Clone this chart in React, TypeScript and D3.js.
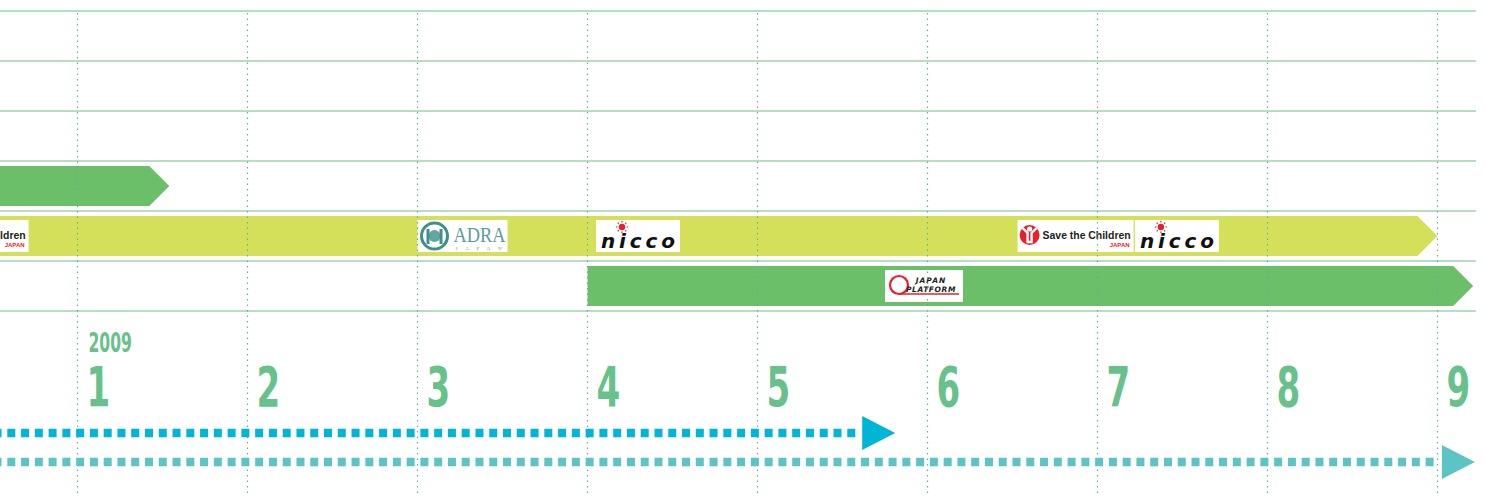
import * as d3 from 'd3';

// months shown on the timeline (2009)
const months = [1, 2, 3, 4, 5, 6, 7, 8, 9];
const yearLabel = '2009';
const gridRows = [0, 1, 2, 3, 4, 5, 6];

// project bars: row index, start / end month
const bars = [
  { row: 3, start: -0.6, end: 1.54, kind: 'green' },
  { row: 4, start: -0.6, end: 9.0, kind: 'yellow' },
  { row: 5, start: 4.0, end: 9.21, kind: 'green' },
];

// organisation logos placed on the bars (left edge in months)
const logos = [
  { row: 4, start: 0.03, org: 'stc' },
  { row: 4, start: 3.0, org: 'adra' },
  { row: 4, start: 4.05, org: 'nicco' },
  { row: 5, start: 5.75, org: 'jpf' },
  { row: 4, start: 6.53, org: 'stc' },
  { row: 4, start: 7.22, org: 'nicco' },
];

// dotted period arrows below the axis
const periods = [
  { lane: 0, end: 5.81, kind: 'blue' },
  { lane: 1, end: 9.22, kind: 'teal' },
];

const colors: Record<string, string> = {
  green: '#6bbf69',
  yellow: '#d5e05a',
  blue: '#00b5d6',
  teal: '#5cc4c4',
};
const logoWidth: Record<string, number> = { stc: 116, adra: 90, nicco: 84, jpf: 78 };

const W = 1485;
const H = 496;

function Logo({ org, x, y }: { org: string; x: number; y: number }) {
  const w = logoWidth[org];
  const h = 32;
  return (
    <g transform={`translate(${x},${y})`}>
      <rect width={w} height={h} fill="#fff" />
      {org === 'stc' && (
        <g>
          <circle cx={12} cy={15} r={10} fill="#e8202a" />
          <circle cx={12} cy={9} r={2.6} fill="#fff" />
          <path d="M5,8 L10,13 L10,22 L14,22 L14,13 L19,8" stroke="#fff" strokeWidth={2.4} fill="none" />
          <text x={25} y={19} fontFamily="Liberation Sans, Arial" fontWeight="bold" fontSize={10.2} fill="#222"
            textLength={88} lengthAdjust="spacingAndGlyphs">
            Save the Children
          </text>
          <text x={112} y={27} textAnchor="end" fontFamily="Liberation Sans, Arial" fontWeight="bold" fontSize={6} fill="#e8202a">
            JAPAN
          </text>
        </g>
      )}
      {org === 'adra' && (
        <g>
          <circle cx={17} cy={16} r={13} fill="none" stroke="#3f8f8b" strokeWidth={3} />
          <circle cx={17} cy={16} r={6} fill="#3f8f8b" opacity={0.8} />
          <rect x={9} y={9} width={3} height={15} fill="#3f8f8b" />
          <rect x={22} y={9} width={3} height={15} fill="#3f8f8b" />
          <text x={36} y={22} fontFamily="Liberation Serif, Times" fontSize={22} fill="#5d9c9b"
            textLength={52} lengthAdjust="spacingAndGlyphs">
            ADRA
          </text>
          <text x={38} y={30} fontFamily="Liberation Serif, Times" fontSize={5} fill="#5d9c9b"
            textLength={46} lengthAdjust="spacing">
            JAPAN
          </text>
        </g>
      )}
      {org === 'nicco' && (
        <g>
          <circle cx={26} cy={7} r={3.2} fill="#e8202a" />
          {d3.range(8).map((i) => {
            const a = (i / 8) * Math.PI * 2;
            return (
              <line
                key={i}
                x1={26 + Math.cos(a) * 4.6}
                y1={7 + Math.sin(a) * 4.6}
                x2={26 + Math.cos(a) * 6}
                y2={7 + Math.sin(a) * 6}
                stroke="#e8202a"
                strokeWidth={1.2}
              />
            );
          })}
          <text x={5} y={28} fontFamily="DejaVu Sans, sans-serif" fontStyle="italic" fontWeight="bold" fontSize={20}
            textLength={74} lengthAdjust="spacing" fill="#111">
            nicco
          </text>
        </g>
      )}
      {org === 'jpf' && (
        <g>
          <circle cx={14} cy={15} r={9} fill="none" stroke="#e8202a" strokeWidth={2.2} />
          <path d="M14,24 L74,24" stroke="#e8202a" strokeWidth={1.6} />
          <text x={46} y={13} textAnchor="middle" fontFamily="DejaVu Sans, sans-serif" fontStyle="italic" fontWeight="bold" fontSize={7.5} letterSpacing={1} fill="#222">
            JAPAN
          </text>
          <text x={46} y={22} textAnchor="middle" fontFamily="DejaVu Sans, sans-serif" fontStyle="italic" fontWeight="bold" fontSize={7.5} letterSpacing={0.6} fill="#222">
            PLATFORM
          </text>
        </g>
      )}
    </g>
  );
}

export default function App() {
  const x = d3.scaleLinear().domain([1, 9]).range([77.5, 1437.5]);
  const y = d3.scaleLinear().domain([0, 6]).range([11, 311]);
  const lane = d3.scaleLinear().domain([0, 1]).range([433, 462]);
  const gridRight = 1476;
  const pad = 5;
  const font = "'DejaVu Sans', sans-serif";
  const labelColor = '#67c18b';

  return (
    <div style={{ position: 'absolute', left: 0, top: 0 }}>
      <svg width={W} height={H} style={{ display: 'block', background: '#fff' }}>
        {/* horizontal row lines */}
        {gridRows.map((r) => (
          <line key={r} x1={0} x2={gridRight} y1={y(r)} y2={y(r)} stroke="#b5dec4" strokeWidth={1.8} />
        ))}

        {/* bars */}
        {bars.map((b, i) => {
          const top = y(b.row) + pad;
          const bot = y(b.row + 1) - pad;
          const mid = (top + bot) / 2;
          const depth = (bot - top) / 2;
          const x0 = x(b.start);
          const x1 = x(b.end);
          return (
            <polygon
              key={i}
              points={`${x0},${top} ${x1 - depth},${top} ${x1},${mid} ${x1 - depth},${bot} ${x0},${bot}`}
              fill={colors[b.kind]}
            />
          );
        })}

        {/* logos */}
        {logos.map((l, i) => (
          <Logo key={i} org={l.org} x={x(l.start)} y={y(l.row) + 9} />
        ))}

        {/* month dividers */}
        {months.map((m) => (
          <line
            key={m}
            x1={x(m)}
            x2={x(m)}
            y1={y(0) + 2}
            y2={H}
            stroke="#5fb38c"
            strokeWidth={1.2}
            strokeDasharray="1.4 4.1"
          />
        ))}

        {/* year and month labels (condensed by horizontal scaling) */}
        <text
          transform={`translate(${x(1) + 11},352) scale(0.6,1)`}
          fontFamily={font}
          fontWeight="bold"
          fontSize={26}
          fill={labelColor}
        >
          {yearLabel}
        </text>
        {months.map((m) => (
          <text
            key={m}
            transform={`translate(${x(m) + 9},406) scale(0.62,1)`}
            fontFamily={font}
            fontWeight="bold"
            fontSize={55}
            fill={labelColor}
          >
            {m}
          </text>
        ))}

        {/* dotted period arrows */}
        {periods.map((p, i) => {
          const cy = lane(p.lane);
          const tip = x(p.end);
          const base = tip - 33;
          return (
            <g key={i}>
              <line
                x1={0}
                x2={base - 3}
                y1={cy}
                y2={cy}
                stroke={colors[p.kind]}
                strokeWidth={8.5}
                strokeDasharray="8 5.77"
                strokeDashoffset={6.47}
              />
              <polygon points={`${base},${cy - 17} ${tip},${cy} ${base},${cy + 17}`} fill={colors[p.kind]} />
            </g>
          );
        })}
      </svg>
    </div>
  );
}
